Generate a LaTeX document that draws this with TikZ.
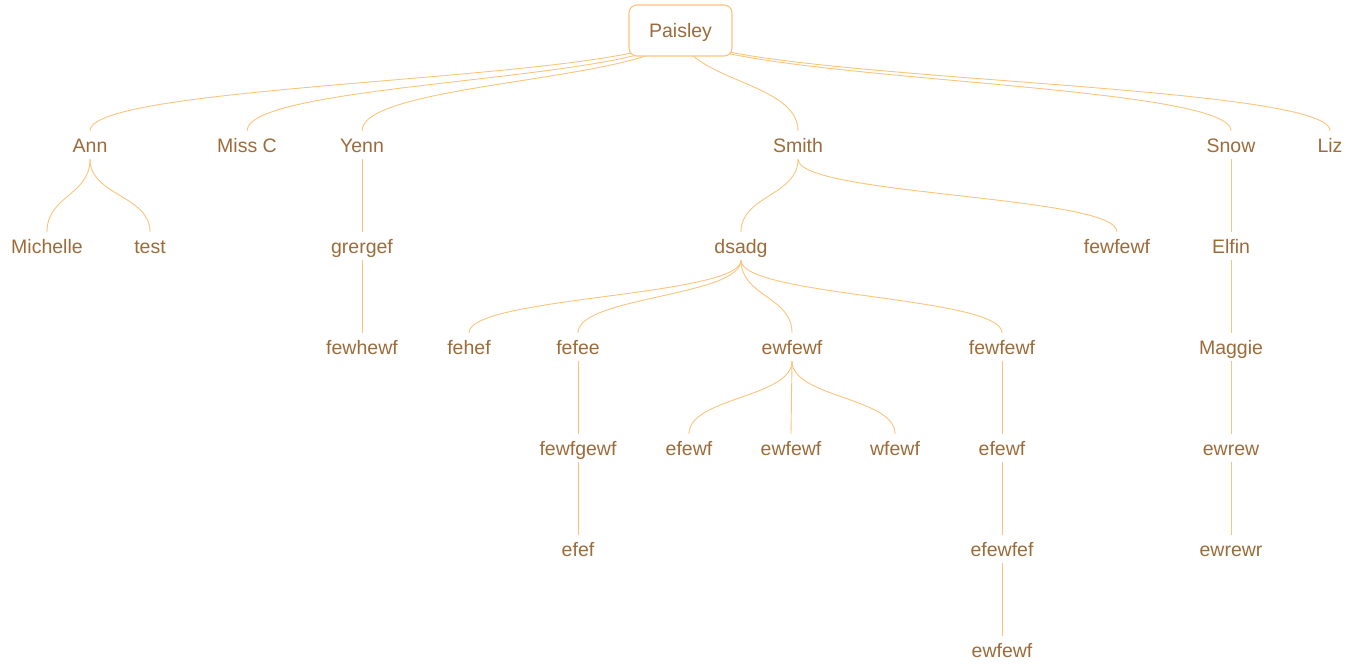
\documentclass[tikz,border=0pt]{standalone}
\usepackage{fontspec}
\setmainfont{Liberation Sans}
\usetikzlibrary{calc,backgrounds}
\definecolor{edgec}{RGB}{250,196,125}
\definecolor{textc}{RGB}{155,107,58}
\tikzset{
  lbl/.style={text=textc, font=\fontsize{19.5}{22}\selectfont, inner sep=0pt,
    text height=14pt, text depth=0pt, minimum height=28pt},
  rootbox/.style={lbl, draw=edgec, line width=1.1pt, fill=white, rounded corners=8pt,
    minimum width=103pt, minimum height=51pt},
  vlink/.style={to path={let \p1=(\tikztostart), \p2=(\tikztotarget),
    \p3=($(\p1)!0.5!(\p2)$) in .. controls (\x1,\y3) and (\x2,\y3) .. (\tikztotarget)}},
  link/.style={draw=edgec, line width=0.9pt}
}
\begin{document}
\begin{tikzpicture}[x=1pt,y=-1pt]
\useasboundingbox (0,0) rectangle (1360,667);
\node[rootbox] (root) at (680.5,30.5) {Paisley};
% level 1
\node[lbl] (ann) at (90,145) {Ann};
\node[lbl] (missc) at (247,145) {Miss C};
\node[lbl] (yenn) at (362,145) {Yenn};
\node[lbl] (smith) at (798,145) {Smith};
\node[lbl] (snow) at (1231,145) {Snow};
\node[lbl] (liz) at (1330,145) {Liz};
% level 2
\node[lbl] (michelle) at (47,246) {Michelle};
\node[lbl] (test) at (150,246) {test};
\node[lbl] (grergef) at (362,246) {grergef};
\node[lbl] (dsadg) at (741,246) {dsadg};
\node[lbl] (fewfewfa) at (1117,246) {fewfewf};
\node[lbl] (elfin) at (1231,246) {Elfin};
% level 3
\node[lbl] (fewhewf) at (362,347) {fewhewf};
\node[lbl] (fehef) at (469,347) {fehef};
\node[lbl] (fefee) at (578,347) {fefee};
\node[lbl] (ewfewfa) at (792,347) {ewfewf};
\node[lbl] (fewfewfb) at (1002,347) {fewfewf};
\node[lbl] (maggie) at (1231,347) {Maggie};
% level 4
\node[lbl] (fewfgewf) at (578,448) {fewfgewf};
\node[lbl] (efewfa) at (689,448) {efewf};
\node[lbl] (ewfewfb) at (791,448) {ewfewf};
\node[lbl] (wfewf) at (895,448) {wfewf};
\node[lbl] (efewfb) at (1002,448) {efewf};
\node[lbl] (ewrew) at (1231,448) {ewrew};
% level 5
\node[lbl] (efef) at (578,549) {efef};
\node[lbl] (efewfef) at (1002,549) {efewfef};
\node[lbl] (ewrewr) at (1231,549) {ewrewr};
% level 6
\node[lbl] (ewfewfc) at (1002,650) {ewfewf};
% edges
\begin{scope}[on background layer]
\foreach \c in {ann,missc,yenn,smith,snow,liz}
  \draw[link] (root.center) to[vlink] (\c.north);
\end{scope}
\foreach \p/\c in {ann/michelle, ann/test, yenn/grergef, smith/dsadg, smith/fewfewfa,
  snow/elfin, grergef/fewhewf, dsadg/fehef, dsadg/fefee, dsadg/ewfewfa, dsadg/fewfewfb,
  elfin/maggie, fefee/fewfgewf, ewfewfa/efewfa, ewfewfa/ewfewfb, ewfewfa/wfewf,
  fewfewfb/efewfb, maggie/ewrew, fewfgewf/efef, efewfb/efewfef, ewrew/ewrewr,
  efewfef/ewfewfc}
  \draw[link] (\p.south) to[vlink] (\c.north);
\end{tikzpicture}
\end{document}
